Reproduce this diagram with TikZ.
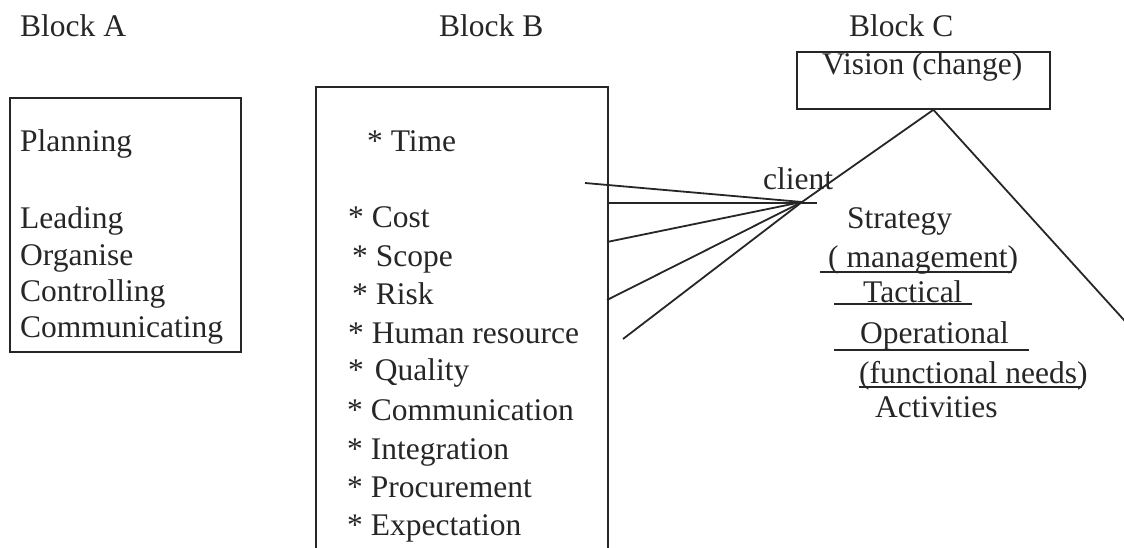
\documentclass[tikz,border=0pt]{standalone}
\usepackage{fontspec}
\setmainfont{Liberation Serif}
\begin{document}
\begin{tikzpicture}[x=1pt,y=-1pt,
  lbl/.style={anchor=base west, inner sep=0pt, font=\fontsize{31.5}{36}\selectfont, text=black!85},
  box/.style={draw=black!85, line width=1.8pt, inner sep=0pt, anchor=north west},
  link/.style={draw=black!85, line width=1.8pt},
  uline/.style={draw=black!85, line width=1.4pt}]
\useasboundingbox (0,0) rectangle (1124,548);
\clip (0,0) rectangle (1124,548);
% boxes
\node[box, minimum width=231pt, minimum height=254pt] (boxA) at (9,97) {};
\node[box, minimum width=292pt, minimum height=500pt] (boxB) at (315,86) {};
\node[box, minimum width=253pt, minimum height=57pt] (boxC) at (796,51) {};
% titles
\node[lbl] (tA) at (20,37) {Block A};
\node[lbl] (tB) at (439,37) {Block B};
\node[lbl] (tC) at (849,37) {Block C};
% block A
\node[lbl] (a1) at (20,152) {Planning};
\node[lbl] (a2) at (20,229) {Leading};
\node[lbl] (a3) at (20,265) {Organise};
\node[lbl] (a4) at (20,301) {Controlling};
\node[lbl] (a5) at (20,337) {Communicating};
% block B
\node[lbl] (b1) at (367,152) {* Time};
\node[lbl] (b2) at (348,228) {* Cost};
\node[lbl] (b3) at (352,266) {* Scope};
\node[lbl] (b4) at (352,304) {* Risk};
\node[lbl] (b5) at (348,343) {* Human resource};
\node[lbl] (b6) at (348,380) {*\hspace{11pt}Quality};
\node[lbl] (b7) at (347,420) {* Communication};
\node[lbl] (b8) at (347,459) {* Integration};
\node[lbl] (b9) at (347,497) {* Procurement};
\node[lbl] (b10) at (347,535) {* Expectation};
% block C
\node[lbl] (vis) at (822,75) {Vision (change)};
\node[lbl] (cli) at (763,190) {client};
\node[lbl] (c1) at (847,229) {Strategy};
\node[lbl] (c2) at (828,267) {( management)};
\node[lbl] (c3) at (863,302) {Tactical};
\node[lbl] (c4) at (860,343) {Operational};
\node[lbl] (c5) at (859,383) {(functional needs)};
\node[lbl] (c6) at (875,417) {Activities};
% underlines
\coordinate (u2a) at (820,272); \coordinate (u2b) at (1012,272);
\coordinate (u3a) at (834,304); \coordinate (u3b) at (972,304);
\coordinate (u4a) at (834,350); \coordinate (u4b) at (1029,350);
\coordinate (u5a) at (859,387); \coordinate (u5b) at (1082,387);
\draw[uline] (u2a) -- (u2b);
\draw[uline] (u3a) -- (u3b);
\draw[uline] (u4a) -- (u4b);
\draw[uline] (u5a) -- (u5b);
% connectors
\coordinate (hub) at (802,202);
\coordinate (apex) at ([xshift=10pt]boxC.south);
\coordinate (tri) at (1143,341);
\coordinate (l1) at (585,183);
\coordinate (l2) at (607,203);
\coordinate (l2e) at (817,203);
\coordinate (l3) at (607,242);
\coordinate (l4) at (607,300);
\coordinate (l5) at (623,339);
\draw[link] (hub) -- (apex) -- (tri);
\draw[link] (l1) -- (hub);
\draw[link] (l2) -- (l2e);
\draw[link] (l3) -- (hub);
\draw[link] (l4) -- (hub);
\draw[link] (l5) -- (hub);
\end{tikzpicture}
\end{document}
